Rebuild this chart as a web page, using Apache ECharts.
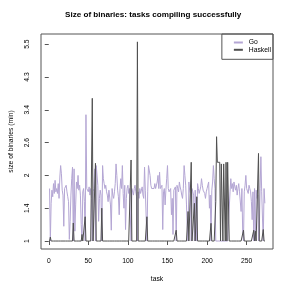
<!DOCTYPE html>
<html>
<head>
<meta charset="utf-8">
<script src="https://cdn.jsdelivr.net/npm/echarts@6/dist/echarts.min.js"></script>
<style>html,body{margin:0;padding:0;background:#fff;}#c{width:291px;height:291px;}</style>
</head>
<body>
<div id="c"></div>
<script>
// Values are positions on the plot's (transformed) y scale: 0 = "1", 6 = "5.5"
const yTickPos = [0, 1, 2, 3, 4, 5, 6];
const yTickLabels = ['1', '1.4', '2', '2.6', '3.4', '4.3', '5.5'];
const xTicks = [0, 50, 100, 150, 200, 250];

const goValues = [
  1.6,0,1.15,1.55,1.35,1.75,1.45,1.85,1.5,1.6,
  1.45,1.75,1.3,1.95,2.3,2.05,1.55,1.4,0.45,1.6,
  1.55,1.7,1.5,1.35,1.2,0.05,0.6,1.4,1.9,2.25,
  0,2.2,0.3,1.1,1.8,1.6,2.0,1.55,1.7,1.4,
  0.5,0,1.5,1.6,1.2,0,3.85,1.6,1.55,1.5,
  1.65,1.4,1.6,1.3,0,1.5,1.6,2.2,0,2.3,
  2.25,1.7,0.6,1.3,1.55,1.4,0,2.3,1.9,1.75,
  1.6,1.7,1.5,1.4,1.2,1.55,1.5,1.1,0.33,1.6,
  1.4,1.3,1.5,1.75,2.35,2.0,1.55,1.35,0.8,1.6,
  1.9,1.6,2.3,1.45,1.0,1.7,0.35,1.3,1.6,1.7,
  1.45,1.6,1.55,0,1.6,1.55,1.4,1.6,1.7,1.5,
  1.35,0,1.5,1.3,1.6,1.45,1.5,1.65,1.4,1.3,
  2.25,1.55,1.6,0,1.5,2.3,2.35,2.0,1.7,1.6,
  1.65,1.55,1.6,1.75,1.6,1.55,1.8,2.0,1.6,2.1,
  1.6,1.55,1.7,0.35,1.5,1.6,1.1,1.55,1.9,2.3,
  1.6,1.5,1.45,1.6,0.8,1.3,0.2,1.55,1.6,1.65,
  0,1.7,1.6,1.5,1.8,1.65,1.55,1.4,1.3,1.6,
  2.3,2.0,1.7,1.1,0.4,0,1.8,1.55,1.45,0,
  1.6,1.5,1.4,0,1.55,1.6,0,1.75,1.6,1.45,
  1.5,1.65,1.9,1.7,1.55,1.6,1.45,1.3,1.5,1.6,
  1.55,1.8,1.0,1.4,0,1.55,1.8,2.3,1.9,1.6,
  0,0,0,0,0,0,0,0,0,0,
  0,0,0,0,0,0,0,0,1.5,1.9,
  1.6,1.75,1.5,1.8,1.65,1.55,1.7,1.4,1.6,1.75,
  1.5,1.45,0.9,1.6,0.3,0,1.5,1.7,2.0,1.6,
  1.55,1.45,1.7,1.6,1.5,1.2,0.65,1.5,0,1.6,
  0,1.55,1.3,1.4,0,0.3,1.6,2.57,1.5,0.7,
  0,1.6,1.15
];

const haskellValues = [
  0,0.12,0,0,0,0,0,0,0,0,
  0,0,0,0,0,0,0,0,0,0,
  0,0,0,0,0,0,0,0,0,0,
  0.55,0,0,0,0,0,0,0,0,0,
  0,0.2,0,0,0,0.74,0,0,0,0,
  0,0,0,0,4.35,0,0,0,2.37,0,
  0,0,0,0,0,0,1.0,0,0,0,
  0,0,0,0,0,0,0,0,0,0,
  0,0,0,0,0,0,0,0,0,0,
  0,0,0,0,0,0,0,0,0,0,
  0,0,0,2.47,0,0,0,0,0,0,
  0,6.07,0,0,0,0,0,0,0,0,
  0,0,0,0.74,0,0,0,0,0,0,
  0,0,0,0,0,0,0,0,0,0,
  0,0,0,0,0,0,0,0,0,0,
  0,0,0,0,0,0,0,0,0,0,
  0.33,0,0,0,0,0,0,0,0,0,
  0,0,0,0,0,0.9,0,0,0,2.4,
  0,0,0,1.15,0,0,1.35,0,0,0,
  0,0,0,0,0,0,0,0,0,0,
  0,0,0,0,0.54,0,0,0,0,0,
  1.2,3.18,2.4,2.4,2.35,2.4,0,2.35,2.4,0,
  2.35,2.35,0,2.4,0,2.4,2.35,0,0,0,
  0,0,0,0,0,0,0,0,0,0,
  0,0,0,0,0,0.33,0,0,0,0,
  0,0,0,0,0,0,0,0,0.33,0,
  0.3,0,0,0,2.67,0,0,0,0,0,
  0.35,0,0
];

const FONT = 'Liberation Sans, Arial, Helvetica, sans-serif';
const AXC = '#555';
const goData = goValues.map((v, k) => [k + 1, v]);
const hsData = haskellValues.map((v, k) => [k + 1, v]);

const chart = echarts.init(document.getElementById('c'), null, {renderer: 'canvas'});
chart.setOption({
  animation: false,
  backgroundColor: '#fff',
  title: {
    text: 'Size of binaries: tasks compiling successfully',
    left: 65, top: 11, padding: 0,
    textStyle: {fontFamily: FONT, fontSize: 8.1, fontWeight: 'bold', color: '#000'}
  },
  grid: {left: 34, right: 18, top: 34, bottom: 42, show: true, borderColor: AXC, borderWidth: 1, backgroundColor: 'transparent'},
  legend: {
    orient: 'vertical', right: 18, top: 34,
    itemWidth: 9, itemHeight: 7, itemGap: 0.3,
    padding: [5, 2, 6, 11],
    borderColor: AXC, borderWidth: 1,
    itemStyle: {opacity: 0},
    textStyle: {fontFamily: FONT, fontSize: 6.75, color: '#000', padding: [0, 0, 0, 1]},
    data: ['Go', 'Haskell']
  },
  xAxis: {
    type: 'value', min: -9.8, max: 283.3,
    name: 'task', nameLocation: 'middle', nameGap: 27,
    nameTextStyle: {fontFamily: FONT, fontSize: 6.75, color: '#000'},
    axisLine: {show: false},
    axisTick: {show: true, length: 4, lineStyle: {color: AXC}, customValues: xTicks},
    axisLabel: {fontFamily: FONT, fontSize: 6.75, color: '#000', margin: 9, customValues: xTicks},
    splitLine: {show: false}
  },
  yAxis: {
    type: 'value', min: -0.243, max: 6.31,
    name: 'size of binaries (min)', nameLocation: 'middle', nameGap: 26,
    nameTextStyle: {fontFamily: FONT, fontSize: 6.75, color: '#000'},
    axisLine: {show: false},
    axisTick: {show: true, length: 4, lineStyle: {color: AXC}, customValues: yTickPos},
    axisLabel: {
      fontFamily: FONT, fontSize: 6.75, color: '#000', margin: 10, rotate: 90,
      customValues: yTickPos,
      formatter: v => yTickLabels[yTickPos.indexOf(Math.round(v))] || ''
    },
    splitLine: {show: false}
  },
  series: [
    {name: 'Go', type: 'line', data: goData, symbol: 'none', lineStyle: {color: '#b4a6d4', width: 1}, itemStyle: {color: '#b4a6d4'}},
    {name: 'Haskell', type: 'line', data: hsData, symbol: 'none', lineStyle: {color: '#505050', width: 1}, itemStyle: {color: '#505050'}}
  ]
});
</script>
</body>
</html>
